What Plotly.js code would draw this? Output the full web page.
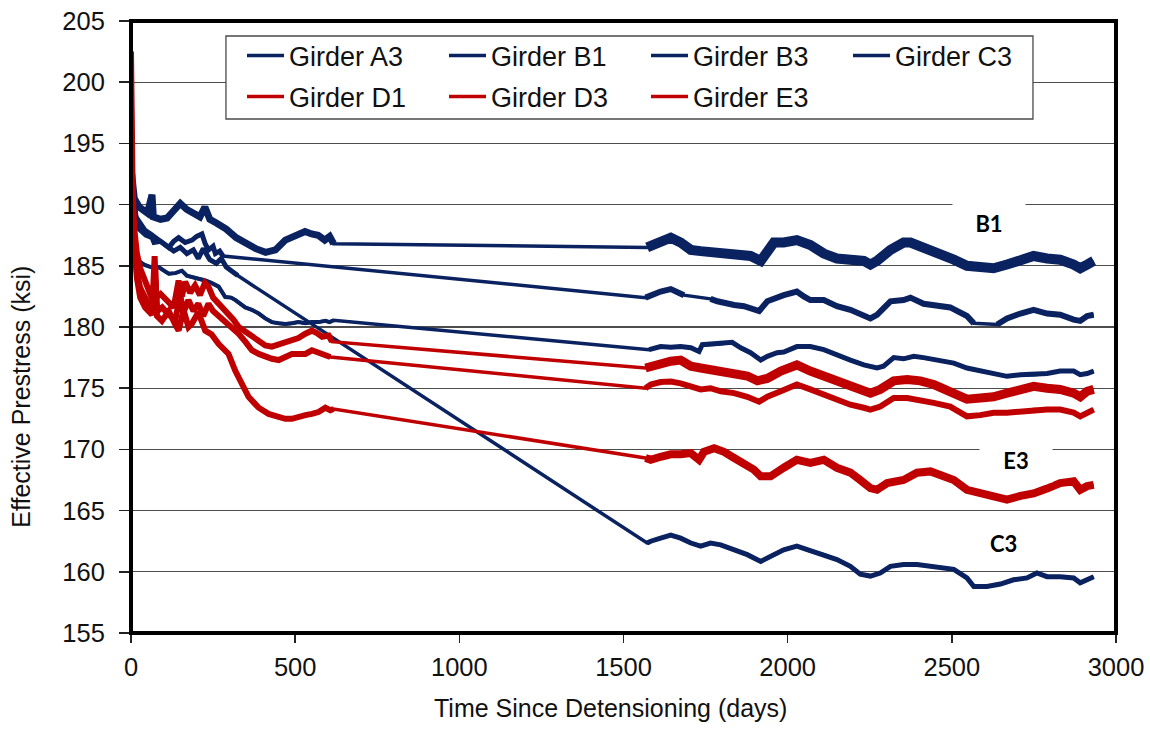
<!DOCTYPE html>
<html>
<head>
<meta charset="utf-8">
<script src="https://cdn.plot.ly/plotly-3.0.1.min.js"></script>
<style>
  html, body { margin: 0; padding: 0; background: #ffffff; }
  #chart { width: 1150px; height: 729px; }
</style>
</head>
<body>
<div id="chart"></div>
<script>
// Effective prestress measured in seven girders, early monitoring and later monitoring campaign.
const a3Days = [3,8,15,25,43,60,84,100,115,130,145,165,186,200,216,226,236,250,257,270,280,
  1567,1583,1613,1644,1674,1684,1765,1786,1837,1867,1913,1938,1988,2028,2049,2069,2110,2150,2191,2232,
  2252,2272,2313,2353,2374,2414,2455,2495,2546,2567,2638,2668,2709,2749,2790,2830,2871,2891,2912,2932];
const a3Ksi = [192.0,190.0,189.0,188.6,187.9,187.6,187.1,186.8,186.5,187.0,187.3,186.9,187.1,187.4,187.6,186.8,186.3,186.6,186.0,186.2,185.8,
  182.4,182.6,182.9,183.1,182.8,182.6,182.3,182.1,181.8,181.7,181.3,182.1,182.6,182.9,182.5,182.2,182.2,181.7,181.4,180.9,
  180.7,181.0,182.1,182.2,182.4,181.9,181.7,181.6,180.9,180.3,180.2,180.7,181.1,181.4,181.1,181.0,180.6,180.5,180.9,181.0];

const b1Days = [2,10,25,50,64,68,90,110,130,150,170,190,210,225,240,260,290,320,350,380,410,440,470,500,530,550,570,590,605,617,
  1572,1583,1613,1644,1674,1705,1735,1786,1837,1887,1918,1938,1958,1988,2028,2069,2110,2150,2191,2232,
  2252,2272,2313,2353,2374,2414,2455,2506,2546,2587,2627,2668,2709,2749,2790,2830,2871,2891,2912,2932];
const b1Ksi = [192.5,190.5,189.8,189.3,190.8,189.0,188.8,188.9,189.5,190.1,189.6,189.3,189.0,189.8,188.8,188.5,188.0,187.3,186.8,186.4,186.1,186.3,187.1,187.4,187.8,187.6,187.5,187.1,187.4,186.8,
  186.5,186.6,187.0,187.3,186.9,186.3,186.2,186.0,185.9,185.8,185.4,186.0,186.9,186.9,187.1,186.7,186.0,185.6,185.6,185.4,
  185.1,185.4,186.3,186.9,186.9,186.5,186.2,185.5,185.0,184.8,184.8,185.1,185.4,185.8,185.6,185.5,185.1,184.8,185.1,185.4];

const b3Days = [3,8,15,23,40,60,84,100,115,135,155,170,186,205,226,245,267,287,305,318,335,348,368,389,409,429,450,470,490,510,531,551,571,592,605,617,
  1578,1613,1644,1674,1705,1730,1740,1786,1831,1857,1887,1918,1938,1968,1988,2028,2069,2110,2150,2191,
  2232,2272,2292,2323,2353,2384,2414,2455,2506,2546,2587,2627,2668,2709,2749,2790,2830,2871,2891,2912,2932];
const b3Ksi = [191.0,188.5,186.5,185.4,185.1,184.9,184.9,184.6,184.35,184.4,184.6,184.2,184.1,184.0,183.8,183.6,183.3,182.45,182.4,182.2,181.9,181.6,181.4,181.1,180.7,180.4,180.3,180.25,180.3,180.4,180.3,180.4,180.4,180.5,180.4,180.55,
  178.15,178.4,178.35,178.4,178.3,178.0,178.55,178.6,178.75,178.3,177.9,177.3,177.6,177.9,177.95,178.4,178.4,178.15,177.7,177.3,
  176.9,176.65,176.8,177.5,177.4,177.6,177.5,177.3,177.05,176.65,176.4,176.2,175.97,176.1,176.1,176.2,176.4,176.4,176.1,176.2,176.4];

const c3Days = [3,8,15,25,45,64,70,90,110,130,150,170,190,205,220,240,260,275,290,305,325,
  1572,1583,1613,1644,1674,1705,1735,1765,1796,1837,1877,1918,1948,1988,2028,2069,2110,2150,2191,2221,
  2252,2282,2313,2353,2394,2435,2475,2506,2546,2567,2607,2648,2688,2729,2759,2790,2830,2871,2891,2912,2932];
const c3Ksi = [192.5,190.5,189.0,188.0,187.5,187.3,186.9,187.0,186.6,186.2,186.5,186.0,186.3,185.6,186.4,185.5,185.2,185.6,184.9,184.6,184.2,
  162.35,162.5,162.75,163.0,162.75,162.35,162.1,162.35,162.2,161.8,161.4,160.85,161.3,161.8,162.1,161.7,161.4,161.0,160.45,159.8,
  159.65,159.9,160.45,160.6,160.6,160.45,160.3,160.2,159.5,158.8,158.8,159.0,159.35,159.5,159.9,159.6,159.6,159.5,159.1,159.35,159.6];

const d1Days = [0,2,5,10,18,28,40,55,66,72,76,90,110,130,145,155,165,180,195,210,225,236,250,267,282,297,312,328,348,368,389,409,429,450,470,490,510,531,551,566,582,602,612,
  1567,1583,1613,1644,1674,1705,1735,1765,1796,1837,1877,1908,1938,1979,2028,2069,2110,2150,2191,2232,
  2252,2282,2323,2364,2404,2445,2475,2506,2546,2587,2627,2668,2709,2749,2790,2830,2871,2891,2912,2932];
const d1Ksi = [202.5,196,191,188.0,186.0,184.8,184.0,183.0,182.2,185.8,182.4,182.7,182.1,181.6,183.8,182.5,183.7,182.8,183.4,182.6,183.6,183.3,182.4,181.9,181.6,181.1,180.6,180.0,179.6,179.2,178.8,178.5,178.4,178.6,178.7,178.9,179.1,179.45,179.7,179.5,179.2,179.3,178.8,
  176.65,176.8,177.05,177.2,177.3,176.8,176.65,176.5,176.4,176.25,176.0,175.6,175.8,176.4,176.9,176.4,176.0,175.6,175.3,174.9,
  174.6,174.9,175.6,175.7,175.6,175.3,174.9,174.5,174.1,174.2,174.3,174.6,174.9,175.15,175.0,174.9,174.6,174.3,174.75,174.9];

const d3Days = [0,2,5,10,18,28,40,55,66,74,80,95,115,135,150,160,175,190,205,220,236,250,267,287,307,328,348,368,389,409,429,450,470,490,510,531,551,571,592,607,
  1567,1583,1613,1644,1674,1705,1735,1765,1796,1837,1877,1913,1938,1979,2028,2069,2110,2150,2191,2232,
  2252,2282,2323,2364,2404,2445,2495,2546,2587,2627,2668,2709,2749,2790,2830,2871,2891,2912,2932];
const d3Ksi = [198,193,189,186.5,184.5,183.2,182.5,181.8,181.2,183.8,181.3,181.6,181.0,180.6,182.6,181.2,182.2,181.3,181.9,180.9,181.9,181.3,180.9,180.5,180.0,179.45,178.8,178.1,177.8,177.55,177.4,177.3,177.5,177.8,177.8,177.8,178.1,177.9,177.7,177.55,
  175.0,175.3,175.5,175.55,175.4,175.15,174.9,175.0,174.75,174.6,174.3,173.9,174.3,174.75,175.3,174.9,174.5,174.05,173.65,173.4,
  173.25,173.5,174.2,174.2,174.05,173.8,173.5,172.7,172.8,173.0,173.0,173.1,173.25,173.25,173.25,173.0,172.7,173.0,173.25];

const e3Days = [0,3,8,18,28,43,64,74,79,94,115,135,145,160,175,186,205,226,245,267,282,297,318,338,358,375,389,419,450,470,490,510,531,551,571,592,607,617,
  1567,1583,1613,1644,1674,1705,1730,1745,1776,1806,1837,1867,1897,1918,1948,1988,2028,2069,2110,2150,
  2191,2221,2252,2272,2303,2353,2394,2435,2475,2506,2546,2587,2627,2668,2709,2749,2790,2830,2871,2891,2912,2932];
const e3Ksi = [196,190.5,187.5,184.0,182.4,181.6,181.0,184.8,180.9,180.5,181.3,180.2,179.7,181.4,180.0,180.3,181.2,179.7,179.4,178.6,178.2,177.8,176.4,175.4,174.3,173.8,173.4,172.9,172.6,172.5,172.5,172.7,172.8,172.9,173.05,173.4,173.2,173.3,
  169.3,169.15,169.4,169.6,169.6,169.7,169.15,169.8,170.1,169.8,169.3,168.9,168.35,167.8,167.8,168.5,169.15,168.9,169.15,168.5,
  168.1,167.5,166.84,166.7,167.25,167.5,168.1,168.2,167.9,167.5,166.7,166.4,166.2,165.9,166.2,166.4,166.8,167.25,167.4,166.7,167.0,167.1];

const girderNames = ['Girder A3','Girder B1','Girder B3','Girder C3','Girder D1','Girder D3','Girder E3'];
const xTicks = [0, 500, 1000, 1500, 2000, 2500, 3000];

// Styling
const NAVY = '#0b2261';
const RED = '#c00000';
const AXIS_FONT = '"Liberation Sans", Arial, Helvetica, sans-serif';
const LABEL_FONT = 'Lato, "Open Sans", sans-serif';

// name, data, colour, legend row, band widths [early, late] for the noisy gauge readings
const girders = [
  { name: girderNames[0], days: a3Days, ksi: a3Ksi, color: NAVY, legend: 'legend',  band: [5, 6] },
  { name: girderNames[1], days: b1Days, ksi: b1Ksi, color: NAVY, legend: 'legend',  band: [7, 10] },
  { name: girderNames[2], days: b3Days, ksi: b3Ksi, color: NAVY, legend: 'legend',  band: [4, 5] },
  { name: girderNames[3], days: c3Days, ksi: c3Ksi, color: NAVY, legend: 'legend',  band: [5, 5] },
  { name: girderNames[4], days: d1Days, ksi: d1Ksi, color: RED,  legend: 'legend2', band: [6, 9] },
  { name: girderNames[5], days: d3Days, ksi: d3Ksi, color: RED,  legend: 'legend2', band: [6, 6] },
  { name: girderNames[6], days: e3Days, ksi: e3Ksi, color: RED,  legend: 'legend2', band: [6, 8] }
];

// Split a record into runs of closely spaced readings (gaps longer than maxGap are unmonitored periods)
function readingRuns(days, ksi, maxGap) {
  const runs = [];
  let cur = { x: [days[0]], y: [ksi[0]] };
  for (let i = 1; i < days.length; i++) {
    if (days[i] - days[i - 1] > maxGap) {
      runs.push(cur);
      cur = { x: [], y: [] };
    }
    cur.x.push(days[i]);
    cur.y.push(ksi[i]);
  }
  runs.push(cur);
  return runs.filter(r => r.x.length > 1);
}

const traces = [];
girders.forEach(g => {
  // full record, including the straight connection across the unmonitored period
  traces.push({
    type: 'scatter', mode: 'lines', name: g.name, legend: g.legend,
    x: g.days, y: g.ksi,
    line: { color: g.color, width: 3.5 },
    hoverinfo: 'skip'
  });
  // thicker band where readings were logged continuously
  readingRuns(g.days, g.ksi, 60).forEach(run => {
    traces.push({
      type: 'scatter', mode: 'lines', showlegend: false, legend: g.legend,
      x: run.x, y: run.y,
      line: { color: g.color, width: run.x[0] < 1000 ? g.band[0] : g.band[1] },
      hoverinfo: 'skip'
    });
  });
});

const legendBase = {
  orientation: 'h', xanchor: 'left', yanchor: 'middle',
  entrywidth: 150, entrywidthmode: 'pixels', itemwidth: 37,
  bgcolor: 'rgba(0,0,0,0)', borderwidth: 0,
  font: { family: AXIS_FONT, size: 27, color: '#111111' }
};

const layout = {
  width: 1150, height: 729,
  margin: { l: 131, r: 34, t: 21, b: 96, pad: 0 },
  paper_bgcolor: '#ffffff', plot_bgcolor: '#ffffff',
  font: { family: AXIS_FONT, color: '#111111' },
  showlegend: true,
  xaxis: {
    range: [0, 3000], tickvals: xTicks, ticktext: xTicks.map(String),
    ticks: 'outside', ticklen: 9, tickwidth: 1.5, tickcolor: '#222222',
    ticklabelstandoff: 2,
    showgrid: false, zeroline: false, showline: false,
    tickfont: { family: AXIS_FONT, size: 25.5, color: '#111111' }
  },
  yaxis: {
    range: [155, 205], tick0: 155, dtick: 5,
    ticks: 'outside', ticklen: 11, tickwidth: 1.5, tickcolor: '#222222',
    ticklabelstandoff: 9,
    showgrid: true, gridcolor: '#4d4d4d', gridwidth: 1.4,
    zeroline: false, showline: false,
    tickfont: { family: AXIS_FONT, size: 25.5, color: '#111111' }
  },
  legend: Object.assign({}, legendBase, { x: 0.1127, y: 0.9428 }),
  legend2: Object.assign({}, legendBase, { x: 0.1127, y: 0.8758 }),
  shapes: [
    // legend box
    { type: 'rect', xref: 'paper', yref: 'paper', x0: 0.0964, x1: 0.9157, y0: 0.8399, y1: 0.9755,
      fillcolor: '#ffffff', line: { color: '#4a4a4a', width: 1.3 }, layer: 'above' },
    // plot frame
    { type: 'rect', xref: 'paper', yref: 'paper', x0: 0, x1: 1, y0: 0, y1: 1,
      line: { color: '#000000', width: 4 }, layer: 'above' }
  ],
  annotations: [
    { xref: 'paper', yref: 'paper', x: 0.4867, y: -0.1232, xanchor: 'center', yanchor: 'middle',
      showarrow: false, text: 'Time Since Detensioning (days)',
      font: { family: AXIS_FONT, size: 25, color: '#111111' } },
    { xref: 'paper', yref: 'paper', x: -0.1114, y: 0.3866, xanchor: 'center', yanchor: 'middle',
      showarrow: false, textangle: -90, text: 'Effective Prestress (ksi)',
      font: { family: AXIS_FONT, size: 25, color: '#111111' } },
    { x: 2613, y: 188.5, xref: 'x', yref: 'y', showarrow: false, text: '<b>B1</b>',
      bgcolor: '#ffffff', width: 72, height: 44, borderpad: 0,
      font: { family: LABEL_FONT, size: 22, color: '#000000' } },
    { x: 2695, y: 169.13, xref: 'x', yref: 'y', showarrow: false, text: '<b>E3</b>',
      bgcolor: '#ffffff', width: 72, height: 44, borderpad: 0,
      font: { family: LABEL_FONT, size: 22, color: '#000000' } },
    { x: 2656, y: 162.35, xref: 'x', yref: 'y', showarrow: false, text: '<b>C3</b>',
      font: { family: LABEL_FONT, size: 22, color: '#000000' } }
  ]
};

Plotly.newPlot('chart', traces, layout, { staticPlot: true, displayModeBar: false });
</script>
</body>
</html>
